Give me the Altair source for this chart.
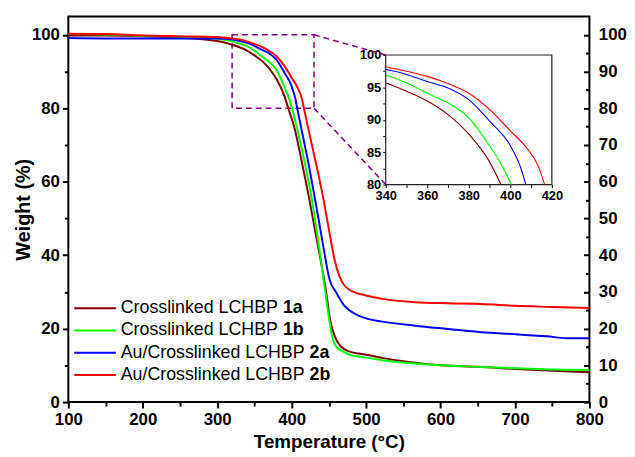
import altair as alt
import pandas as pd

# ---------------- data ----------------
KEYS = ["1a", "1b", "2a", "2b"]
LEGEND_PREFIX = ["Crosslinked LCHBP ", "Crosslinked LCHBP ",
                 "Au/Crosslinked LCHBP ", "Au/Crosslinked LCHBP "]
COLORS = ["#800000", "#00ff00", "#0000ff", "#ff0000"]

T_1A = [100, 150, 200, 250, 300, 320, 330, 340, 350, 360, 370, 380, 390, 395.5,
        404, 413, 423, 433, 440, 446, 452, 458, 466, 477, 490, 500, 525, 550,
        600, 650, 700, 750, 800]
W_1A = [99.8, 99.8, 99.6, 99.2, 98.3, 97.3, 96.6, 95.7, 94.4, 92.9, 90.8, 87.8,
        83.5, 80.0, 74.5, 66.0, 56.0, 45.0, 37.5, 30.5, 22.0, 17.8, 15.2, 13.8,
        13.2, 12.9, 11.9, 11.1, 10.0, 9.6, 9.0, 8.5, 8.1]

T_1B = [100, 150, 200, 250, 300, 320, 330, 340, 350, 360, 370, 380, 390, 395,
        400.5, 410, 419, 426, 433, 439, 444.5, 449, 455.5, 461, 467, 478, 490,
        500, 525, 550, 600, 650, 700, 750, 800]
W_1B = [100.2, 100.1, 99.7, 99.4, 98.9, 98.2, 97.6, 96.9, 95.7, 94.1, 92.6,
        90.3, 86.0, 83.5, 80.0, 72.2, 63.8, 56.5, 47.5, 39.0, 31.0, 24.4, 17.0,
        14.8, 14.0, 12.9, 12.4, 12.1, 11.3, 10.75, 10.0, 9.6, 9.2, 8.9, 8.7]

T_2A = [100, 150, 200, 250, 300, 320, 330, 340, 350, 360, 370, 380, 390, 400,
        405, 407.5, 415, 424, 433, 442, 451, 460, 471, 486.5, 500, 522, 566,
        610, 655, 700, 743, 770, 800]
W_2A = [99.1, 99.0, 99.0, 99.0, 99.0, 98.7, 98.3, 97.8, 97.0, 95.9, 94.9, 93.1,
        89.8, 86.0, 82.6, 80.0, 72.5, 63.5, 53.5, 43.0, 33.3, 29.8, 26.2, 23.9,
        22.8, 21.9, 20.8, 19.9, 19.0, 18.5, 17.9, 17.4, 17.4]

T_2B = [100, 150, 200, 250, 300, 320, 330, 340, 350, 360, 370, 380, 390, 400,
        407.5, 413.5, 416.5, 425, 433.3, 442, 451, 457.7, 464.3, 477.6, 500,
        522, 566, 610, 655, 700, 750, 800]
W_2B = [100.3, 100.2, 99.8, 99.6, 99.4, 99.0, 98.7, 98.2, 97.5, 96.7, 95.6,
        94.1, 91.6, 88.3, 85.8, 82.8, 80.0, 72.0, 64.5, 56.0, 45.9, 38.7, 34.2,
        30.6, 29.0, 28.1, 27.2, 26.9, 26.7, 26.2, 25.9, 25.6]

ZOOM_T = [320, 430]      # dashed box on main plot
ZOOM_W = [80, 100]
INSET_T = [340, 420]     # inset domain
INSET_W = [80, 100]

X_MAJOR = list(range(100, 801, 100))
X_MINOR = list(range(150, 751, 100))
Y_MAJOR = list(range(0, 101, 20))
Y_MINOR = list(range(10, 91, 20))
YR_MAJOR = list(range(0, 101, 10))
YR_MINOR = list(range(5, 96, 10))
XI_TICKS = list(range(340, 421, 10))
YI_TICKS = [80 + 2.5 * i for i in range(9)]

# ---------------- layout ----------------
FONT = "Liberation Sans"
PW, PH = 527, 390
INSET_LEFT, INSET_RIGHT, INSET_TOP, INSET_BOTTOM = 321, 489, 39, 170
BOLD_X = [217, 244]

rows = []
for key, ts, ws in zip(KEYS, [T_1A, T_1B, T_2A, T_2B], [W_1A, W_1B, W_2A, W_2B]):
    for t, w in zip(ts, ws):
        rows.append({"key": key, "T": t, "W": w})
curves = pd.DataFrame(rows)
zoom_df = pd.DataFrame({"t0": [ZOOM_T[0]], "t1": [ZOOM_T[1]],
                        "w0": [ZOOM_W[0]], "w1": [ZOOM_W[1]]})
inset_df = pd.DataFrame({"t0": [INSET_T[0]], "t1": [INSET_T[1]],
                         "w0": [INSET_W[0]], "w1": [INSET_W[1]]})
conn_df = pd.DataFrame({"t": [ZOOM_T[1]], "wtop": [ZOOM_W[1]], "wbot": [ZOOM_W[0]]})
legend_df = pd.DataFrame({"key": KEYS, "prefix": LEGEND_PREFIX, "row": [0, 1, 2, 3]})

X_MAIN = alt.Scale(domain=[100, 800], nice=False, zero=False)
Y_MAIN = alt.Scale(domain=[0, 105], nice=False, zero=False)
X_INSET = alt.Scale(domain=INSET_T, range=[INSET_LEFT, INSET_RIGHT], nice=False, zero=False)
Y_INSET = alt.Scale(domain=INSET_W, range=[INSET_BOTTOM, INSET_TOP], nice=False, zero=False)
ROW_SCALE = alt.Scale(domain=[0, 3], range=[295, 362.7], nice=False, zero=False)
COLOR = alt.Scale(domain=KEYS, range=COLORS)
color_enc = alt.Color("key:N", scale=COLOR, legend=None)


def ax(**kw):
    base = dict(grid=False, domain=False, tickColor="black", tickWidth=2,
                labelColor="black", labelFont=FONT, labelFontWeight="bold",
                labelFontSize=17, labelFlush=False, labelOverlap=False)
    base.update(kw)
    return alt.Axis(**base)


PURPLE = "#800080"
DASH = [6, 4]

main_lines = alt.Chart(curves).mark_line(strokeWidth=2, interpolate="monotone").encode(
    x=alt.X("T:Q", scale=X_MAIN, title="Temperature (°C)",
            axis=ax(orient="bottom", values=X_MAJOR, tickSize=6, labelPadding=4,
                    titleFont=FONT, titleFontSize=19, titleFontWeight="bold",
                    titleColor="black", titlePadding=5)),
    y=alt.Y("W:Q", scale=Y_MAIN, title="Weight (%)",
            axis=ax(orient="left", values=Y_MAJOR, tickSize=6, labelPadding=3,
                    titleFont=FONT, titleFontSize=20, titleFontWeight="bold",
                    titleColor="black", titleX=-45, titleY=PH / 2, titleAngle=270,
                    titleAlign="center", titleBaseline="middle")),
    color=color_enc,
    detail="key:N",
)

zoom_box = alt.Chart(zoom_df).mark_rect(fillOpacity=0, stroke=PURPLE, strokeWidth=1.5,
                                        strokeDash=DASH).encode(
    x=alt.X("t0:Q", scale=X_MAIN, title=None,
            axis=ax(orient="bottom", values=X_MINOR, tickSize=4, labels=False)),
    x2="t1:Q",
    y=alt.Y("w0:Q", scale=Y_MAIN, title=None,
            axis=ax(orient="left", values=Y_MINOR, tickSize=4, labels=False)),
    y2="w1:Q",
)

conn_top = alt.Chart(conn_df).mark_rule(stroke=PURPLE, strokeWidth=1.5, strokeDash=DASH).encode(
    x=alt.X("t:Q", scale=X_MAIN, axis=None),
    y=alt.Y("wtop:Q", scale=Y_MAIN, title=None,
            axis=ax(orient="right", values=YR_MAJOR, ticks=False, tickSize=0,
                    labelPadding=9)),
    x2=alt.value(INSET_LEFT),
    y2=alt.value(INSET_TOP),
)

conn_bot = alt.Chart(conn_df).mark_rule(stroke=PURPLE, strokeWidth=1.5, strokeDash=DASH).encode(
    x=alt.X("t:Q", scale=X_MAIN, axis=None),
    y=alt.Y("wbot:Q", scale=Y_MAIN, title=None,
            axis=ax(orient="left", offset=-PW, values=YR_MAJOR, tickSize=6,
                    labels=False)),
    x2=alt.value(INSET_LEFT),
    y2=alt.value(INSET_BOTTOM),
)

right_minor = alt.Chart(curves).mark_point(opacity=0).encode(
    x=alt.X("T:Q", scale=X_MAIN, axis=None),
    y=alt.Y("W:Q", scale=Y_MAIN, title=None,
            axis=ax(orient="left", offset=-PW, values=YR_MINOR, tickSize=4,
                    labels=False)),
)

inset_frame = alt.Chart(inset_df).mark_rect(fill="white", stroke="#222222",
                                            strokeWidth=1.2).encode(
    x=alt.X("t0:Q", scale=X_INSET, axis=None),
    x2="t1:Q",
    y=alt.Y("w0:Q", scale=Y_INSET, axis=None),
    y2="w1:Q",
)

inset_lines = alt.Chart(curves).transform_filter(
    f"datum.T >= {INSET_T[0]} && datum.T <= {INSET_T[1]} && datum.W >= {INSET_W[0]}"
).mark_line(strokeWidth=1.1, interpolate="monotone").encode(
    x=alt.X("T:Q", scale=X_INSET, title=None,
            axis=ax(orient="bottom", offset=-(PH - INSET_BOTTOM), values=XI_TICKS,
                    tickSize=3, tickWidth=1, labelFontSize=13, labelPadding=2,
                    labelExpr="datum.value % 20 === 0 ? datum.label : ''")),
    y=alt.Y("W:Q", scale=Y_INSET, title=None,
            axis=ax(orient="left", offset=-INSET_LEFT, values=YI_TICKS,
                    tickSize=3, tickWidth=1, labelFontSize=13, labelPadding=2,
                    labelExpr="datum.value % 5 === 0 ? datum.label : ''")),
    color=color_enc,
    detail="key:N",
)

leg_y = alt.Y("row:Q", scale=ROW_SCALE, axis=None)
leg_rules = alt.Chart(legend_df).mark_rule(strokeWidth=2).encode(
    x=alt.value(6), x2=alt.value(48), y=leg_y, color=color_enc)
leg_text = alt.Chart(legend_df).mark_text(
    align="left", baseline="middle", font=FONT, fontSize=18, color="black").encode(
    x=alt.value(53), y=leg_y, text="prefix:N")
leg_bold_1 = alt.Chart(legend_df).transform_filter("datum.row < 2").mark_text(
    align="left", baseline="middle", font=FONT, fontSize=18, fontWeight="bold",
    color="black").encode(x=alt.value(BOLD_X[0]), y=leg_y, text="key:N")
leg_bold_2 = alt.Chart(legend_df).transform_filter("datum.row >= 2").mark_text(
    align="left", baseline="middle", font=FONT, fontSize=18, fontWeight="bold",
    color="black").encode(x=alt.value(BOLD_X[1]), y=leg_y, text="key:N")

chart = alt.layer(
    zoom_box, conn_top, conn_bot, right_minor, main_lines,
    inset_frame, inset_lines,
    leg_rules, leg_text, leg_bold_1, leg_bold_2,
).resolve_scale(
    x="independent", y="independent"
).properties(
    width=PW, height=PH,
    autosize=alt.AutoSizeParams(type="none"),
    padding={"left": 61, "top": 6, "right": 38, "bottom": 52},
).configure(font=FONT).configure_view(stroke="black", strokeWidth=2)

chart.save("out.html", embed_options={"renderer": "svg", "actions": False})
